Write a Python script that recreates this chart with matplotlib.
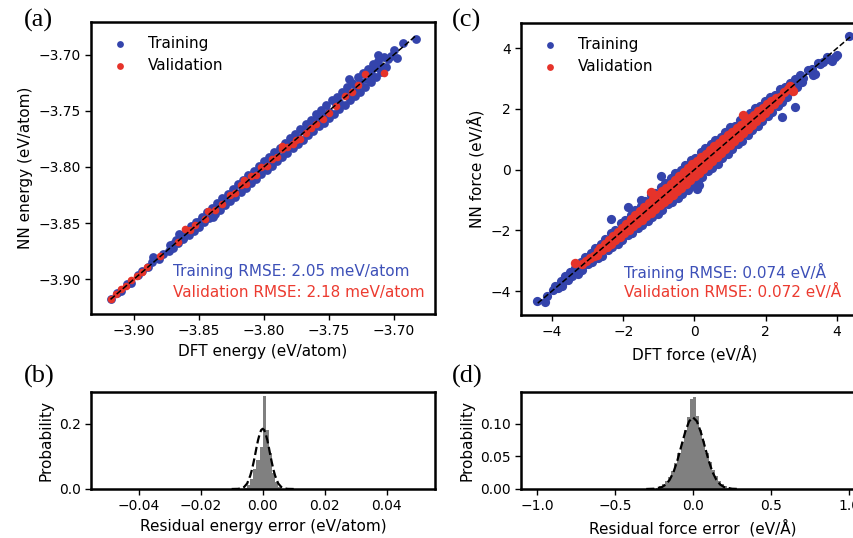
import matplotlib
matplotlib.use('Agg')
import numpy as np
from matplotlib import pyplot as plt

# ---- (a) energy parity, eV/atom ----
energy_dft_train = [
    -3.918, -3.913, -3.910, -3.905, -3.902, -3.897, -3.894, -3.889, -3.886, -3.881,
    -3.878, -3.873, -3.870, -3.865, -3.862, -3.857, -3.854, -3.849, -3.846, -3.841,
    -3.838, -3.833, -3.830, -3.825, -3.822, -3.817, -3.814, -3.809, -3.806, -3.801,
    -3.798, -3.793, -3.790, -3.785, -3.782, -3.777, -3.774, -3.769, -3.766, -3.761,
    -3.758, -3.753, -3.750, -3.745, -3.742, -3.737, -3.734, -3.729, -3.726, -3.721,
    -3.718, -3.713, -3.710, -3.705, -3.702,
    -3.872, -3.868, -3.864, -3.860, -3.856, -3.852, -3.848, -3.844, -3.840, -3.836,
    -3.832, -3.828, -3.824, -3.820, -3.816, -3.812, -3.808, -3.804, -3.800, -3.796,
    -3.792, -3.788, -3.784, -3.780, -3.776, -3.772, -3.768, -3.764, -3.760, -3.756,
    -3.752, -3.748, -3.744, -3.740, -3.736, -3.732, -3.728, -3.724, -3.720, -3.716,
    -3.712, -3.708,
    -3.870, -3.866, -3.862, -3.858, -3.854, -3.850, -3.846, -3.842, -3.838, -3.834,
    -3.830, -3.826, -3.822, -3.818, -3.814, -3.810, -3.806, -3.802, -3.798, -3.794,
    -3.790, -3.786, -3.782, -3.778, -3.774, -3.770, -3.766, -3.762, -3.758, -3.754,
    -3.750, -3.746, -3.742, -3.738, -3.734, -3.730, -3.726, -3.722, -3.718, -3.714,
    -3.710, -3.706,
    -3.885, -3.865, -3.839, -3.698, -3.693, -3.683, -3.700, -3.712, -3.735, -3.716,
]
energy_nn_train = [
    -3.918, -3.9125, -3.9105, -3.904, -3.903, -3.8965, -3.893, -3.8895, -3.8845, -3.882,
    -3.8775, -3.8745, -3.869, -3.865, -3.863, -3.8555, -3.8545, -3.848, -3.8475, -3.8405,
    -3.837, -3.834, -3.8285, -3.825, -3.8235, -3.816, -3.8135, -3.810, -3.8045, -3.8015,
    -3.798, -3.792, -3.7915, -3.7845, -3.7805, -3.778, -3.774, -3.768, -3.7675, -3.7605,
    -3.7565, -3.7535, -3.751, -3.744, -3.742, -3.7355, -3.735, -3.7285, -3.724, -3.722,
    -3.7175, -3.7115, -3.711, -3.704, -3.7015,
    -3.870, -3.8655, -3.8615, -3.857, -3.8525, -3.849, -3.8445, -3.840, -3.8365, -3.832,
    -3.8275, -3.824, -3.820, -3.8155, -3.812, -3.807, -3.8035, -3.7995, -3.795, -3.791,
    -3.7865, -3.783, -3.7785, -3.774, -3.7705, -3.766, -3.7615, -3.758, -3.753, -3.7495,
    -3.745, -3.7405, -3.7375, -3.733, -3.7285, -3.725, -3.720, -3.7165, -3.713, -3.7085,
    -3.7055, -3.702,
    -3.872, -3.868, -3.8645, -3.861, -3.857, -3.8535, -3.8495, -3.8455, -3.842, -3.838,
    -3.834, -3.8305, -3.8265, -3.822, -3.8185, -3.8145, -3.811, -3.8065, -3.803, -3.799,
    -3.795, -3.7915, -3.7875, -3.7835, -3.780, -3.776, -3.772, -3.7685, -3.764, -3.7605,
    -3.7565, -3.753, -3.7485, -3.745, -3.7405, -3.737, -3.733, -3.7285, -3.724, -3.720,
    -3.7155, -3.711,
    -3.880, -3.860, -3.845, -3.703, -3.690, -3.686, -3.696, -3.700, -3.722, -3.712,
]
energy_dft_val = [
    -3.918, -3.914, -3.910, -3.906, -3.902, -3.898, -3.894, -3.890, -3.880, -3.866,
    -3.861, -3.857, -3.853, -3.843, -3.838, -3.832, -3.826, -3.822, -3.818, -3.814,
    -3.810, -3.806, -3.802, -3.798, -3.794, -3.790, -3.786, -3.782, -3.778, -3.775,
    -3.772, -3.768, -3.764, -3.760, -3.755, -3.750, -3.745, -3.738, -3.732, -3.728,
    -3.722, -3.708, -3.786, -3.815, -3.845,
]
energy_nn_val = [
    -3.918, -3.913, -3.909, -3.906, -3.901, -3.897, -3.894, -3.889, -3.879, -3.867,
    -3.855, -3.856, -3.852, -3.839, -3.838, -3.833, -3.825, -3.823, -3.816, -3.815,
    -3.808, -3.807, -3.800, -3.799, -3.793, -3.791, -3.784, -3.782, -3.780, -3.776,
    -3.775, -3.770, -3.765, -3.762, -3.757, -3.752, -3.746, -3.737, -3.733, -3.727,
    -3.717, -3.716, -3.781, -3.812, -3.846,
]
energy_diag = [-3.918, -3.683]

# ---- (c) force parity, eV/A ----
force_dft_train = [
    -3.91, -3.75, -3.63, -3.47, -3.35, -3.19, -3.07, -2.91, -2.79, -2.63,
    -2.51, -2.35, -2.23, -2.07, -1.95, -1.79, -1.67, -1.51, -1.39, -1.23,
    -1.11, -0.95, -0.83, -0.67, -0.55, -0.39, -0.27, -0.11, 0.01, 0.17,
    0.29, 0.45, 0.57, 0.73, 0.85, 1.01, 1.13, 1.29, 1.41, 1.57,
    1.69, 1.85, 1.97, 2.13, 2.25, 2.41, 2.53, 2.69, 2.81, 2.97,
    -3.83, -3.71, -3.55, -3.43, -3.27, -3.15, -2.99, -2.87, -2.71, -2.59,
    -2.43, -2.31, -2.15, -2.03, -1.87, -1.75, -1.59, -1.47, -1.31, -1.19,
    -1.03, -0.91, -0.75, -0.63, -0.47, -0.35, -0.19, -0.07, 0.09, 0.21,
    0.37, 0.49, 0.65, 0.77, 0.93, 1.05, 1.21, 1.33, 1.49, 1.61,
    1.77, 1.89, 2.05, 2.17, 2.33, 2.45, 2.61, 2.73, 2.89, 3.01,
    -4.42, -4.20, -4.14, -3.98, -3.80, -3.72, -3.64, -3.50, -3.40, -3.25,
    -3.12, -3.02, -2.85, 2.75, 2.82, 2.46, 2.90, 3.05, 3.18, 3.30,
    3.32, 3.38, 3.47, 3.52, 3.62, 3.72, 3.75, 3.85, 3.94, 4.00,
    4.34, -0.95, 0.07, 0.12, -1.86, -2.34, -1.50, 2.60, 2.85,
]
force_nn_train = [
    -3.83, -3.68, -3.51, -3.36, -3.25, -3.05, -2.89, -2.76, -2.59, -2.46,
    -2.28, -2.10, -2.00, -1.77, -1.67, -1.50, -1.34, -1.21, -1.04, -0.85,
    -0.77, -0.58, -0.43, -0.29, -0.12, -0.01, 0.15, 0.32, 0.39, 0.57,
    0.72, 0.83, 0.98, 1.09, 1.23, 1.40, 1.45, 1.65, 1.74, 1.87,
    2.02, 2.11, 2.25, 2.40, 2.47, 2.65, 2.73, 2.85, 2.99, 3.12,
    -3.89, -3.81, -3.65, -3.52, -3.43, -3.30, -3.12, -3.06, -2.90, -2.83,
    -2.65, -2.54, -2.44, -2.32, -2.14, -2.10, -1.93, -1.81, -1.70, -1.55,
    -1.46, -1.33, -1.14, -1.06, -0.93, -0.79, -0.67, -0.50, -0.37, -0.25,
    -0.04, 0.06, 0.20, 0.37, 0.51, 0.68, 0.83, 0.94, 1.15, 1.31,
    1.44, 1.61, 1.75, 1.91, 2.11, 2.22, 2.39, 2.58, 2.72, 2.87,
    -4.33, -4.36, -4.17, -3.95, -3.84, -3.85, -3.60, -3.36, -3.42, -3.22,
    -3.15, -2.98, -2.86, 2.78, 2.05, 1.72, 2.93, 3.02, 3.27, 3.30,
    3.11, 3.14, 3.50, 3.47, 3.55, 3.70, 3.64, 3.57, 3.70, 3.77,
    4.40, -0.22, -0.64, -0.50, -1.22, -1.64, -1.00, 2.62, 2.80,
]
force_dft_val = [
    -2.93, -2.82, -2.71, -2.62, -2.49, -2.41, -2.30, -2.19, -2.11, -1.98,
    -1.90, -1.79, -1.71, -1.58, -1.49, -1.41, -1.29, -1.22, -1.08, -1.01,
    -0.89, -0.80, -0.72, -0.59, -0.51, -0.38, -0.31, -0.19, -0.12, 0.02,
    0.09, 0.21, 0.28, 0.41, 0.49, 0.62, 0.69, 0.81, 0.92, 1.01,
    1.08, 1.21, 1.29, 1.42, 1.51, 1.59, 1.72, 1.79, 1.91, 2.02,
    2.09, 2.21, 2.32, 2.41, 2.52, 2.63,
    -2.65, -2.52, -2.40, -2.28, -2.15, -2.03, -1.91, -1.78, -1.66, -1.54,
    -1.41, -1.29, -1.17, -1.04, -0.92, -0.80, -0.67, -0.55, -0.43, -0.30,
    -0.18, -0.06, 0.07, 0.19, 0.31, 0.44, 0.56, 0.68, 0.81, 0.93,
    1.05, 1.18, 1.30, 1.42, 1.55, 1.67, 1.79, 1.92, 2.04, 2.16, 2.29,
    -2.59, -2.47, -2.34, -2.22, -2.09, -1.97, -1.85, -1.72, -1.60, -1.48,
    -1.35, -1.23, -1.11, -0.98, -0.86, -0.74, -0.61, -0.49, -0.37, -0.24,
    -0.12, 0.01, 0.13, 0.25, 0.38, 0.50, 0.62, 0.75, 0.87, 0.99,
    1.12, 1.24, 1.36, 1.49, 1.61, 1.73, 1.86, 1.98, 2.10, 2.23, 2.35,
    -3.35, -3.15, -3.05, 1.35, -1.22, 2.72, 2.77, 2.68, -2.75,
]
force_nn_val = [
    -2.91, -2.85, -2.67, -2.63, -2.46, -2.45, -2.29, -2.14, -2.13, -1.95,
    -1.95, -1.77, -1.67, -1.61, -1.48, -1.36, -1.33, -1.20, -1.09, -0.97,
    -0.92, -0.75, -0.74, -0.56, -0.56, -0.37, -0.27, -0.22, -0.10, -0.02,
    0.14, 0.20, 0.31, 0.37, 0.51, 0.67, 0.66, 0.82, 0.87, 1.05,
    1.06, 1.24, 1.25, 1.44, 1.56, 1.56, 1.73, 1.77, 1.95, 1.97,
    2.12, 2.20, 2.34, 2.38, 2.56, 2.64,
    -2.59, -2.44, -2.31, -2.18, -2.04, -1.91, -1.78, -1.64, -1.51, -1.37,
    -1.24, -1.11, -0.98, -0.84, -0.72, -0.59, -0.46, -0.33, -0.21, -0.07,
    0.04, 0.17, 0.30, 0.41, 0.53, 0.66, 0.77, 0.89, 1.01, 1.13,
    1.24, 1.36, 1.47, 1.58, 1.70, 1.81, 1.92, 2.04, 2.15, 2.25, 2.36,
    -2.66, -2.55, -2.44, -2.33, -2.21, -2.10, -1.99, -1.87, -1.76, -1.65,
    -1.53, -1.42, -1.31, -1.18, -1.07, -0.96, -0.83, -0.72, -0.59, -0.47,
    -0.35, -0.21, -0.10, 0.03, 0.16, 0.29, 0.41, 0.55, 0.67, 0.80,
    0.94, 1.07, 1.20, 1.34, 1.47, 1.60, 1.74, 1.87, 2.00, 2.15, 2.29,
    -3.09, -3.10, -3.02, 1.79, -0.73, 2.66, 2.60, 2.74, -2.80,
]
force_diag = [-4.40, 4.40]

# ---- (b) energy residual histogram ----
energy_bin_edges = [-0.006, -0.005, -0.004, -0.003, -0.002, -0.001, 0.000,
                    0.001, 0.002, 0.003, 0.004, 0.005, 0.006]
energy_prob = [0.004, 0.012, 0.030, 0.060, 0.090, 0.130, 0.285,
               0.180, 0.110, 0.050, 0.020, 0.005]
energy_fit_x = [-0.010, -0.008, -0.007, -0.006, -0.005, -0.004, -0.0035, -0.003,
                -0.0025, -0.002, -0.0015, -0.001, -0.0005, 0.0, 0.0005, 0.001,
                0.0015, 0.002, 0.0025, 0.003, 0.0035, 0.004, 0.005, 0.006,
                0.007, 0.008, 0.010]
energy_fit_y = [0.0, 0.0004, 0.002, 0.006, 0.017, 0.041, 0.058, 0.079,
                0.102, 0.127, 0.150, 0.168, 0.181, 0.185, 0.181, 0.168,
                0.150, 0.127, 0.102, 0.079, 0.058, 0.041, 0.017, 0.006,
                0.002, 0.0004, 0.0]

# ---- (d) force residual histogram ----
force_bin_edges = [-0.24, -0.22, -0.20, -0.18, -0.16, -0.14, -0.12, -0.10, -0.08,
                   -0.06, -0.04, -0.02, 0.00, 0.02, 0.04, 0.06, 0.08, 0.10,
                   0.12, 0.14, 0.16, 0.18, 0.20, 0.22, 0.24]
force_prob = [0.002, 0.004, 0.007, 0.012, 0.019, 0.028, 0.040, 0.055, 0.072,
              0.090, 0.110, 0.138, 0.142, 0.112, 0.091, 0.073, 0.056, 0.041,
              0.029, 0.020, 0.012, 0.007, 0.004, 0.002]
force_fit_x = [-0.30, -0.25, -0.20, -0.175, -0.15, -0.125, -0.10, -0.075, -0.05,
               -0.025, 0.0, 0.025, 0.05, 0.075, 0.10, 0.125, 0.15, 0.175,
               0.20, 0.25, 0.30]
force_fit_y = [0.0, 0.0004, 0.0029, 0.0067, 0.014, 0.026, 0.044, 0.066, 0.0876,
               0.104, 0.110, 0.104, 0.0876, 0.066, 0.044, 0.026, 0.014, 0.0067,
               0.0029, 0.0004, 0.0]

blue = '#3444ac'
red = '#e6332a'
blue_txt = '#3d50b8'
red_txt = '#ec3b30'

fig = plt.figure(figsize=(8.54, 5.38), dpi=100)
W, H = 854, 538
ax_a = fig.add_axes([91 / W, 1 - 314 / H, 344 / W, 292 / H])
ax_c = fig.add_axes([521 / W, 1 - 315 / H, 347 / W, 292 / H])
ax_b = fig.add_axes([91 / W, 1 - 489 / H, 344 / W, 97 / H])
ax_d = fig.add_axes([521 / W, 1 - 489 / H, 344 / W, 97 / H])

for ax in (ax_a, ax_b, ax_c, ax_d):
    for sp in ax.spines.values():
        sp.set_linewidth(1.8)
    ax.tick_params(labelsize=10, width=1.0, length=4)

# (a)
ax_a.scatter(energy_dft_train, energy_nn_train, s=40, color=blue, linewidths=0, label='Training')
ax_a.scatter(energy_dft_val, energy_nn_val, s=30, color=red, linewidths=0, label='Validation')
ax_a.plot(energy_diag, energy_diag, 'k--', lw=1.1)
ax_a.set_xlim(-3.933, -3.6685)
ax_a.set_ylim(-3.931, -3.671)
ax_a.set_xticks([-3.90, -3.85, -3.80, -3.75, -3.70])
ax_a.set_yticks([-3.90, -3.85, -3.80, -3.75, -3.70])
ax_a.set_xlabel('DFT energy (eV/atom)', fontsize=11)
ax_a.set_ylabel('NN energy (eV/atom)', fontsize=11)
leg = ax_a.legend(loc='upper left', frameon=False, fontsize=11)
for h in leg.legend_handles:
    h.set_sizes([24])
ax_a.text(0.238, 0.144, 'Training RMSE: 2.05 meV/atom', color=blue_txt, fontsize=11,
          transform=ax_a.transAxes, va='center')
ax_a.text(0.238, 0.075, 'Validation RMSE: 2.18 meV/atom', color=red_txt, fontsize=11,
          transform=ax_a.transAxes, va='center')

# (c)
ax_c.scatter(force_dft_train, force_nn_train, s=44, color=blue, linewidths=0, label='Training')
ax_c.scatter(force_dft_val, force_nn_val, s=46, color=red, linewidths=0, label='Validation')
ax_c.plot(force_diag, force_diag, 'k--', lw=1.1)
ax_c.set_xlim(-4.87, 4.87)
ax_c.set_ylim(-4.79, 4.83)
ax_c.set_xticks([-4, -2, 0, 2, 4])
ax_c.set_yticks([-4, -2, 0, 2, 4])
ax_c.set_xlabel('DFT force (eV/Å)', fontsize=11)
ax_c.set_ylabel('NN force (eV/Å)', fontsize=11)
leg = ax_c.legend(loc='upper left', frameon=False, fontsize=11)
for h in leg.legend_handles:
    h.set_sizes([24])
ax_c.text(0.2965, 0.147, 'Training RMSE: 0.074 eV/Å', color=blue_txt, fontsize=11,
          transform=ax_c.transAxes, va='center')
ax_c.text(0.2965, 0.078, 'Validation RMSE: 0.072 eV/Å', color=red_txt, fontsize=11,
          transform=ax_c.transAxes, va='center')

# (b)
ax_b.bar(energy_bin_edges[:-1], energy_prob, width=np.diff(energy_bin_edges),
         align='edge', color='#808080', linewidth=0)
ax_b.plot(energy_fit_x, energy_fit_y, 'k--', lw=1.6)
ax_b.set_xlim(-0.0553, 0.0555)
ax_b.set_ylim(0, 0.298)
ax_b.set_xticks([-0.04, -0.02, 0.00, 0.02, 0.04])
ax_b.set_yticks([0.0, 0.2])
ax_b.set_xlabel('Residual energy error (eV/atom)', fontsize=11)
ax_b.set_ylabel('Probability', fontsize=11)

# (d)
ax_d.bar(force_bin_edges[:-1], force_prob, width=np.diff(force_bin_edges),
         align='edge', color='#808080', linewidth=0)
ax_d.plot(force_fit_x, force_fit_y, 'k--', lw=1.6)
ax_d.set_xlim(-1.103, 1.103)
ax_d.set_ylim(0, 0.149)
ax_d.set_xticks([-1.0, -0.5, 0.0, 0.5, 1.0])
ax_d.set_yticks([0.00, 0.05, 0.10])
ax_d.set_xlabel('Residual force error  (eV/Å)', fontsize=11)
ax_d.set_ylabel('Probability', fontsize=11)

# panel letters
for lbl, px, py in [('(a)', 24, 20), ('(c)', 452, 20), ('(b)', 24, 376), ('(d)', 452, 376)]:
    fig.text(px / W, 1 - py / H, lbl, family='Liberation Serif', fontsize=19,
             ha='left', va='center')

fig.savefig('out.png', dpi=100)
